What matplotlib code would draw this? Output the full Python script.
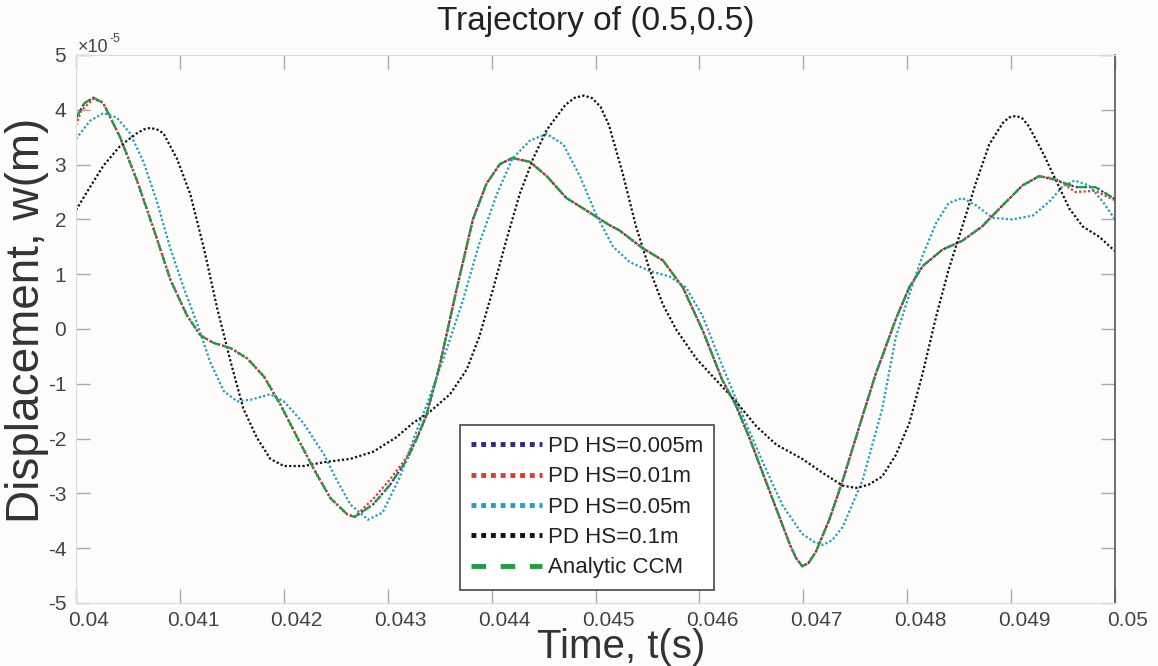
import numpy as np
import matplotlib
matplotlib.use("Agg")
import matplotlib.pyplot as plt
from matplotlib.ticker import FuncFormatter
from matplotlib.transforms import ScaledTranslation

plt.rcParams['font.family'] = ['Liberation Sans', 'DejaVu Sans']

# time in ms after 0.04 s, displacement in units of 1e-5 m
t_ccm = [0.0, 0.08, 0.167, 0.26, 0.424, 0.585, 0.75, 0.91, 1.07, 1.20, 1.32, 1.49,
         1.65, 1.81, 1.97, 2.13, 2.29, 2.45, 2.61, 2.68, 2.86, 3.02, 3.18, 3.28,
         3.37, 3.50, 3.66, 3.82, 3.95, 4.08, 4.20, 4.37, 4.53, 4.72, 4.94, 5.13,
         5.23, 5.45, 5.65, 5.84, 6.03, 6.22, 6.35, 6.48, 6.61, 6.74, 6.87, 6.93,
         6.99, 7.05, 7.12, 7.25, 7.38, 7.57, 7.70, 7.76, 7.89, 8.02, 8.15, 8.34,
         8.53, 8.72, 8.92, 9.11, 9.27, 9.43, 9.62, 9.81, 10.0]
w_ccm = [3.85, 4.12, 4.22, 4.13, 3.50, 2.72, 1.81, 0.89, 0.24, -0.12, -0.25, -0.35,
         -0.54, -0.87, -1.39, -1.98, -2.56, -3.09, -3.38, -3.43, -3.20, -2.85, -2.40, -2.00,
         -1.59, -0.67, 0.70, 2.00, 2.65, 3.01, 3.12, 3.05, 2.79, 2.39, 2.13, 1.90,
         1.80, 1.48, 1.25, 0.76, -0.02, -0.93, -1.39, -1.98, -2.63, -3.28, -3.93, -4.18,
         -4.33, -4.27, -4.07, -3.48, -2.76, -1.59, -0.80, -0.50, 0.18, 0.76, 1.15, 1.45,
         1.61, 1.87, 2.26, 2.62, 2.79, 2.72, 2.59, 2.59, 2.37]

# PD HS=0.005m lies on the analytic curve
t_005 = t_ccm
w_005 = w_ccm

t_01 = [0.0, 0.05, 0.167, 0.26, 0.424, 0.585, 0.75, 0.91, 1.07, 1.20, 1.32, 1.49,
        1.65, 1.81, 1.97, 2.13, 2.29, 2.45, 2.61, 2.68, 2.86, 3.02, 3.18, 3.28,
        3.37, 3.50, 3.66, 3.82, 3.95, 4.08, 4.20, 4.37, 4.53, 4.72, 4.94, 5.13,
        5.23, 5.45, 5.65, 5.84, 6.03, 6.22, 6.35, 6.48, 6.61, 6.74, 6.87, 6.93,
        6.99, 7.05, 7.12, 7.25, 7.38, 7.57, 7.70, 7.76, 7.89, 8.02, 8.15, 8.34,
        8.53, 8.72, 8.92, 9.11, 9.27, 9.43, 9.62, 9.81, 10.0]
w_01 = [3.72, 3.98, 4.20, 4.13, 3.50, 2.72, 1.81, 0.89, 0.24, -0.12, -0.25, -0.35,
        -0.54, -0.87, -1.39, -1.98, -2.56, -3.09, -3.38, -3.43, -3.10, -2.75, -2.35, -1.98,
        -1.59, -0.67, 0.70, 2.00, 2.65, 3.01, 3.12, 3.05, 2.79, 2.39, 2.13, 1.90,
        1.80, 1.48, 1.25, 0.76, -0.02, -0.93, -1.39, -1.98, -2.63, -3.28, -3.93, -4.18,
        -4.33, -4.27, -4.07, -3.48, -2.76, -1.59, -0.80, -0.50, 0.18, 0.76, 1.15, 1.45,
        1.61, 1.87, 2.26, 2.62, 2.79, 2.74, 2.50, 2.52, 2.35]

t_05 = [0.0, 0.135, 0.264, 0.392, 0.521, 0.65, 0.778, 0.907, 1.035, 1.164, 1.293,
        1.421, 1.55, 1.68, 1.87, 2.0, 2.19, 2.39, 2.51, 2.64, 2.81, 2.95, 3.12,
        3.28, 3.40, 3.56, 3.72, 3.88, 4.05, 4.20, 4.37, 4.53, 4.69, 4.85, 5.01,
        5.17, 5.33, 5.52, 5.71, 5.87, 6.03, 6.22, 6.42, 6.61, 6.80, 6.99, 7.10,
        7.19, 7.28, 7.38, 7.57, 7.63, 7.76, 7.89, 8.02, 8.15, 8.28, 8.40, 8.53,
        8.66, 8.82, 9.01, 9.21, 9.37, 9.49, 9.61, 9.75, 9.88, 10.0]
w_05 = [3.47, 3.80, 3.94, 3.86, 3.57, 3.05, 2.33, 1.48, 0.76, 0.11, -0.61,
        -1.13, -1.32, -1.29, -1.19, -1.32, -1.72, -2.30, -2.76, -3.20, -3.48, -3.35, -2.69,
        -1.85, -1.26, -0.41, 0.50, 1.55, 2.46, 3.11, 3.44, 3.56, 3.37, 2.79, 2.07,
        1.50, 1.22, 1.06, 0.96, 0.76, 0.24, -0.67, -1.59, -2.43, -3.22, -3.74, -3.88,
        -3.94, -3.85, -3.61, -2.76, -2.35, -1.45, -0.15, 0.63, 1.35, 1.94, 2.30, 2.39,
        2.26, 2.03, 2.00, 2.07, 2.33, 2.59, 2.71, 2.62, 2.33, 2.00]

t_1 = [0.0, 0.135, 0.264, 0.424, 0.585, 0.65, 0.714, 0.78, 0.842, 0.971, 1.10, 1.23,
       1.36, 1.49, 1.61, 1.74, 1.87, 2.0, 2.19, 2.39, 2.64, 2.86, 3.08, 3.24, 3.40,
       3.60, 3.76, 3.88, 4.01, 4.14, 4.27, 4.40, 4.53, 4.71, 4.80, 4.89, 4.97, 5.05,
       5.13, 5.20, 5.26, 5.39, 5.52, 5.65, 5.78, 5.97, 6.16, 6.35, 6.55, 6.74, 6.99,
       7.19, 7.38, 7.51, 7.63, 7.76, 7.89, 8.02, 8.15, 8.28, 8.40, 8.53, 8.66, 8.79,
       8.92, 8.98, 9.05, 9.11, 9.17, 9.30, 9.43, 9.56, 9.69, 9.85, 10.0]
w_1 = [2.17, 2.59, 2.98, 3.34, 3.57, 3.64, 3.67, 3.64, 3.57, 3.11, 2.46, 1.48,
       0.37, -0.61, -1.45, -1.98, -2.37, -2.50, -2.50, -2.43, -2.37, -2.24, -1.98, -1.72, -1.52,
       -1.19, -0.74, -0.15, 0.70, 1.61, 2.46, 3.11, 3.63, 4.09, 4.22, 4.26, 4.21, 4.05,
       3.72, 3.25, 2.85, 1.87, 1.09, 0.44, -0.02, -0.54, -0.93, -1.32, -1.78, -2.11, -2.37,
       -2.63, -2.86, -2.90, -2.84, -2.69, -2.30, -1.72, -0.80, 0.24, 1.09, 1.87, 2.66, 3.37,
       3.76, 3.86, 3.89, 3.84, 3.70, 3.24, 2.72, 2.20, 1.87, 1.68, 1.42]

labels = ["PD HS=0.005m", "PD HS=0.01m", "PD HS=0.05m", "PD HS=0.1m", "Analytic CCM"]
colors = ["#2f2a86", "#e8352c", "#1aa0c9", "#111111", "#1f9e3f"]

bg = "#fdfcfb"
fig = plt.figure(figsize=(11.58, 6.66), dpi=100, facecolor=bg)
ax = fig.add_axes([76 / 1158, 1 - 603 / 666, (1115 - 76) / 1158, (603 - 55) / 666])
ax.set_facecolor(bg)


def sec(t):
    return 0.04 + np.array(t) / 1000.0


def met(w):
    return np.array(w) * 1e-5


series = [(t_005, w_005), (t_01, w_01), (t_05, w_05), (t_1, w_1)]
for (tt, ww), c, lab in zip(series, colors[:4], labels[:4]):
    ax.plot(sec(tt), met(ww), color=c, lw=1.6, linestyle=(0, (1, 1)), label=lab)
ax.plot(sec(t_ccm), met(w_ccm), color=colors[4], lw=1.6, linestyle=(0, (4, 2.5)),
        label=labels[4])

ax.set_xlim(0.04, 0.05)
ax.set_ylim(-5e-5, 5e-5)
ax.set_xticks(np.arange(0.04, 0.05001, 0.001))
ax.set_yticks(np.arange(-5, 6) * 1e-5)
ax.xaxis.set_major_formatter(FuncFormatter(lambda v, p: f"{round(v, 4):g}"))
ax.yaxis.set_major_formatter(FuncFormatter(lambda v, p: f"{round(v * 1e5):d}"))

ax.tick_params(direction="in", length=10, width=1, colors="#a8a8a8",
               labelcolor="#444444", labelsize=15, top=True, right=True)
ax.tick_params(axis="x", pad=6)
ax.tick_params(axis="y", pad=7)
for tk in ax.yaxis.get_major_ticks():
    tk.tick2line.set_color("#555555")

for side in ["top", "left", "bottom"]:
    ax.spines[side].set_color("#dddddd")
ax.spines["right"].set_color("#555555")
ax.spines["right"].set_linewidth(1.2)

shift = ScaledTranslation(13 / 100, 0, fig.dpi_scale_trans)
for lab in ax.get_xticklabels():
    lab.set_transform(lab.get_transform() + shift)

leg = ax.legend(loc="upper left", bbox_to_anchor=(460 / 1158, 1 - 425 / 666),
                bbox_transform=fig.transFigure, borderaxespad=0, fontsize=16,
                handlelength=3.2, handletextpad=0.25, labelspacing=0.42,
                borderpad=0.5, fancybox=False, framealpha=1, facecolor="white",
                edgecolor="#555555")
leg.get_frame().set_linewidth(1.3)
for i, ln in enumerate(leg.get_lines()):
    ln.set_linewidth(3.5)
    ln.set_linestyle((0, (3.0, 3.0)) if i == 4 else (0, (1, 1)))
for txt in leg.get_texts():
    txt.set_color("#222222")

fig.text(596 / 1158, 1 - 30 / 666, "Trajectory of (0.5,0.5)", ha="center",
         va="baseline", fontsize=24, color="#222222")
fig.text(621 / 1158, 1 - 658 / 666, "Time, t(s)", ha="center", va="baseline",
         fontsize=29, color="#333333")
fig.text(27 / 1158, 1 - 320 / 666, "Displacement, w(m)", ha="center", va="center",
         rotation=90, fontsize=33, color="#333333")
fig.text(78 / 1158, 1 - 52 / 666, "×10", ha="left", va="baseline", fontsize=13,
         color="#444444")
fig.text(110 / 1158, 1 - 42 / 666, "-5", ha="left", va="baseline", fontsize=9,
         color="#444444")

fig.savefig("out.png", dpi=100, facecolor=bg)
